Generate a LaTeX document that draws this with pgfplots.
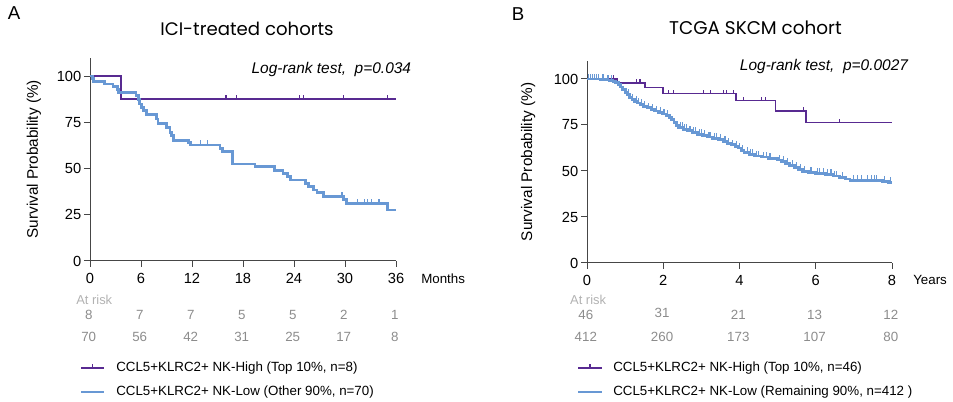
\documentclass[border=0pt]{standalone}
\usepackage{fontspec}
\setmainfont{Liberation Sans}
\newfontfamily\titlefont{Poppins}
\usepackage{pgfplots}
\pgfplotsset{compat=1.18}
\definecolor{kmpurple}{RGB}{88,42,145}
\definecolor{kmblue}{RGB}{104,152,212}
\definecolor{riskgray}{RGB}{140,140,140}
\definecolor{risklabel}{RGB}{178,178,178}
\definecolor{axisgray}{RGB}{70,70,70}

% censoring tick: a short stroke going up from the curve
\pgfdeclareplotmark{cens}{%
  \pgfpathmoveto{\pgfqpoint{0pt}{0pt}}%
  \pgfpathlineto{\pgfqpoint{0pt}{\pgfplotmarksize}}%
  \pgfusepathqstroke}

\pgfplotsset{kmaxis/.style={
  scale only axis, enlargelimits=false, clip=false,
  axis x line=bottom, axis y line=left,
  axis line style={-, axisgray, line width=0.75pt},
  tick style={axisgray, line width=0.75pt},
  tick align=outside, major tick length=4.5pt,
  ymin=0, ymax=110, ytick={0,25,50,75,100},
  /pgf/number format/assume math mode=true,
  tick label style={font=\fontsize{11}{13}\selectfont, black},
  xticklabel style={yshift=-1.5pt},
  yticklabel style={xshift=1.5pt},
  ylabel={Survival Probability (\%)},
  label style={font=\fontsize{11.5}{13}\selectfont},
}}
\tikzset{risk/.style={font=\fontsize{10}{12}\selectfont, text=riskgray},
         risklab/.style={font=\fontsize{9.7}{11}\selectfont, text=risklabel}}

\begin{document}
\begin{tikzpicture}
\path[use as bounding box] (0,0) rectangle (714.75pt,301.5pt);

% ---------------- panel A ----------------
\begin{axis}[kmaxis, at={(67.5pt,105.75pt)}, anchor=south west,
  width=229.5pt, height=152.6pt,
  xmin=0, xmax=36, xtick={0,6,...,36},
  ylabel style={at={(axis description cs:-0.183,0.5)}, anchor=center}]
\addplot[const plot, kmpurple, line width=1.1pt] coordinates
  {(0,100) (3.65,87.5) (36,87.5)};
\addplot[only marks, mark=cens, mark size=3pt, kmpurple, mark options={line width=0.8pt}] coordinates
  {(16.0,87.5) (17.25,87.5) (24.7,87.5) (25.1,87.5) (29.8,87.5) (35.0,87.5)};
\addplot[const plot, kmblue, line width=2.1pt] coordinates {
  (0,100) (0.25,98.6) (0.45,97.1) (1.75,95.7) (2.7,94.3) (3.2,92.6) (3.35,91.0)
  (5.4,89.4) (5.67,87.1) (5.86,84.9) (6.06,83.1) (6.33,81.3) (6.65,79.1)
  (7.8,76.8) (8.0,74.4) (9.0,72.3) (9.4,69.5) (9.6,67.7) (9.86,65.2)
  (11.6,63.9) (11.85,62.7) (15.3,60.9) (15.6,59.1) (16.8,52.4) (19.4,51.0)
  (21.7,48.8) (22.7,47.4) (23.2,45.6) (23.6,43.8) (25.35,42.0) (25.7,40.2)
  (26.3,38.4) (26.7,36.9) (27.5,34.8) (29.86,33.3) (30.2,31.2) (35.0,27.6) (36,27.6)};
\addplot[only marks, mark=cens, mark size=3.5pt, kmblue, mark options={line width=0.8pt}] coordinates
  {(13.0,62.7) (13.8,62.7) (29.6,34.8) (29.75,34.8) (31.5,31.2) (32.3,31.2)
   (32.7,31.2) (33.1,31.2) (33.9,31.2) (34.1,31.2)};
% numbers at risk
\node[risklab] at (axis cs:0.5,-21.1) {At risk};
\node[risk] at (axis cs:-0.15,-29.2) {8};
\node[risk] at (axis cs:5.85,-29.2) {7};
\node[risk] at (axis cs:11.85,-29.2) {7};
\node[risk] at (axis cs:17.85,-29.2) {5};
\node[risk] at (axis cs:23.85,-29.2) {5};
\node[risk] at (axis cs:29.85,-29.2) {2};
\node[risk] at (axis cs:35.85,-29.2) {1};
\node[risk] at (axis cs:-0.15,-41.1) {70};
\node[risk] at (axis cs:5.85,-41.1) {56};
\node[risk] at (axis cs:11.85,-41.1) {42};
\node[risk] at (axis cs:17.85,-41.1) {31};
\node[risk] at (axis cs:23.85,-41.1) {25};
\node[risk] at (axis cs:29.85,-41.1) {17};
\node[risk] at (axis cs:35.85,-41.1) {8};
\end{axis}

% ---------------- panel B ----------------
\begin{axis}[kmaxis, at={(440.25pt,104.25pt)}, anchor=south west,
  width=228.75pt, height=151.8pt,
  xmin=0, xmax=8, xtick={0,2,...,8},
  ylabel style={at={(axis description cs:-0.193,0.5)}, anchor=center}]
\addplot[const plot, kmpurple, line width=1.1pt] coordinates
  {(0,100) (0.8,97.8) (1.52,95.5) (1.99,92.0) (3.91,88.2) (4.94,82.6) (5.75,76.3) (8,76.3)};
\addplot[only marks, mark=cens, mark size=3pt, kmpurple, mark options={line width=0.8pt}] coordinates
  {(0.56,100) (0.69,100) (1.3,97.8) (1.39,97.8) (2.13,92.0) (2.27,92.0) (3.05,92.0)
   (3.23,92.0) (3.58,92.0) (3.67,92.0) (3.84,92.0) (4.1,88.2) (4.58,88.2)
   (4.67,88.2) (5.68,82.6) (6.62,76.3)};
\addplot[const plot, kmblue, line width=2.1pt] coordinates {
  (0,100) (0.35,99.8) (0.5,99.5) (0.6,99.3) (0.68,98.8) (0.75,97.9) (0.82,96.8)
  (0.88,95.6) (0.94,94.2) (1.0,92.8) (1.06,91.5) (1.12,90.0) (1.18,88.9)
  (1.25,87.8) (1.32,86.9) (1.40,86.0) (1.48,85.1) (1.58,84.3) (1.68,83.5)
  (1.78,82.6) (1.88,81.8) (1.98,81.0) (2.08,80.2) (2.16,79.2) (2.22,77.8)
  (2.28,76.2) (2.34,74.6) (2.40,73.5) (2.52,72.6) (2.64,71.8) (2.76,71.0)
  (2.90,70.0) (3.02,69.2) (3.15,68.5) (3.30,67.8) (3.45,67.0) (3.58,66.0)
  (3.68,65.0) (3.78,64.2) (3.88,63.5) (3.96,62.5) (4.04,61.2) (4.12,60.0)
  (4.25,59.0) (4.40,58.2) (4.58,57.6) (4.75,57.0) (4.88,56.6) (5.0,56.0)
  (5.1,55.2) (5.2,54.2) (5.32,53.0) (5.45,51.8) (5.55,50.7) (5.66,49.6)
  (5.8,49.1) (6.0,48.5) (6.25,48.0) (6.45,47.3) (6.62,46.5) (6.78,45.6)
  (6.9,45.0) (7.75,44.3) (7.9,43.6) (8.0,43.6)};
\addplot[only marks, mark=cens, mark size=4pt, kmblue, mark options={line width=0.8pt}] coordinates
  {(0.05,100) (0.1,100) (0.15,100) (0.2,100) (0.25,100) (0.3,100) (0.42,99.8)
   (0.55,99.5) (0.64,99.3) (1.1,91.5) (1.2,88.9) (1.3,87.8) (1.36,86.9)
   (1.44,86.0) (1.52,85.1) (1.62,84.3) (1.72,83.5)
   (1.82,82.6) (1.92,81.8) (2.02,81.0) (2.12,80.2) (2.45,73.5) (2.5,73.5)
   (2.56,72.6) (2.6,72.6) (2.7,71.8) (2.72,71.8) (2.8,71.0) (2.85,71.0)
   (2.95,70.0) (3.0,70.0) (3.08,69.2) (3.2,68.5) (3.25,68.5) (3.35,67.8)
   (3.4,67.8) (3.5,67.0) (3.62,66.0) (3.72,65.0) (3.82,64.2) (3.92,63.5)
   (4.0,62.5) (4.08,61.2) (4.2,60.0) (4.3,59.0) (4.35,59.0) (4.45,58.2) (4.5,58.2)
   (4.62,57.6) (4.7,57.6) (4.8,57.0) (5.05,56.0) (5.15,55.2) (5.25,54.2)
   (5.38,53.0) (5.5,51.8) (5.6,50.7) (5.7,49.6) (5.85,49.1) (5.9,49.1)
   (6.05,48.5) (6.1,48.5) (6.2,48.5) (6.3,48.0) (6.4,48.0) (6.5,47.3)
   (6.55,47.3) (6.7,46.5) (7.0,45.0) (7.1,45.0) (7.2,45.0) (7.35,45.0)
   (7.45,45.0) (7.55,45.0) (7.6,45.0) (7.8,44.3) (7.95,43.6)};
\node[risklab] at (axis cs:0.03,-20.1) {At risk};
\node[risk] at (axis cs:-0.03,-28.3) {46};
\node[risk] at (axis cs:1.97,-27.3) {31};
\node[risk] at (axis cs:3.97,-28.3) {21};
\node[risk] at (axis cs:5.97,-28.3) {13};
\node[risk] at (axis cs:7.97,-28.3) {12};
\node[risk] at (axis cs:-0.03,-40.2) {412};
\node[risk] at (axis cs:1.97,-40.2) {260};
\node[risk] at (axis cs:3.97,-40.2) {173};
\node[risk] at (axis cs:5.97,-40.2) {107};
\node[risk] at (axis cs:7.97,-40.2) {80};
\end{axis}

% ---------------- titles and annotations ----------------
\node[font=\fontsize{14}{16}\selectfont] at (10.5pt,291.75pt) {A};
\node[font=\fontsize{14}{16}\selectfont] at (388.5pt,291pt) {B};
\node[font=\titlefont\fontsize{13.6}{16}\selectfont] at (185.25pt,279.75pt) {ICI-treated cohorts};
\node[font=\titlefont\fontsize{13.8}{16}\selectfont] at (566.6pt,280.9pt) {TCGA SKCM cohort};
\node[anchor=base, font=\itshape\fontsize{11.6}{13}\selectfont] at (248.5pt,246pt) {Log-rank test,\ \ p=0.034};
\node[anchor=base, font=\itshape\fontsize{11.6}{13}\selectfont] at (618pt,248.25pt) {Log-rank test,\ \ p=0.0027};
\node[anchor=west, inner sep=0pt, font=\fontsize{10}{12}\selectfont] at (315.75pt,92.25pt) {Months};
\node[anchor=west, inner sep=0pt, font=\fontsize{10}{12}\selectfont] at (684.75pt,91.5pt) {Years};

% legends
\draw[kmpurple, line width=1.1pt] (60.75pt,25.5pt) -- (78pt,25.5pt);
\draw[kmpurple, line width=0.8pt] (69.4pt,25.5pt) -- (69.4pt,28.5pt);
\draw[kmblue, line width=2.1pt] (60.75pt,7.5pt) -- (78pt,7.5pt);
\node[anchor=west, inner sep=0pt, font=\fontsize{10}{12}\selectfont] at (87pt,25.5pt) {CCL5+KLRC2+ NK-High (Top 10\%, n=8)};
\node[anchor=west, inner sep=0pt, font=\fontsize{10}{12}\selectfont] at (87pt,7.5pt) {CCL5+KLRC2+ NK-Low (Other 90\%, n=70)};
\draw[kmpurple, line width=1.1pt] (433.5pt,25.5pt) -- (451.5pt,25.5pt);
\draw[kmpurple, line width=0.8pt] (442.5pt,25.5pt) -- (442.5pt,28.5pt);
\draw[kmblue, line width=2.1pt] (433.5pt,7.5pt) -- (451.5pt,7.5pt);
\node[anchor=west, inner sep=0pt, font=\fontsize{10}{12}\selectfont] at (459.75pt,25.5pt) {CCL5+KLRC2+ NK-High (Top 10\%, n=46)};
\node[anchor=west, inner sep=0pt, font=\fontsize{10}{12}\selectfont] at (459.75pt,7.5pt) {CCL5+KLRC2+ NK-Low (Remaining 90\%, n=412 )};
\end{tikzpicture}
\end{document}
